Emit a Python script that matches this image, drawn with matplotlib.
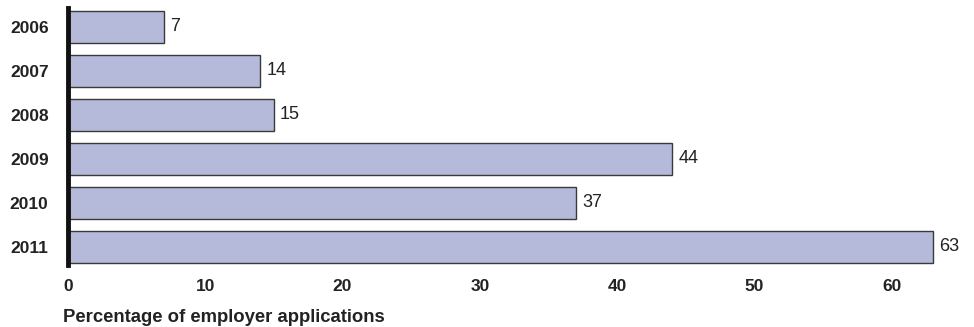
import matplotlib
matplotlib.use("Agg")
import matplotlib.pyplot as plt

years = ["2006", "2007", "2008", "2009", "2010", "2011"]
values = [7, 14, 15, 44, 37, 63]
xticks = [0, 10, 20, 30, 40, 50, 60]

plt.rcParams['font.family'] = ['Liberation Sans', 'DejaVu Sans']

fig = plt.figure(figsize=(9.74, 3.27), dpi=100)
ax = fig.add_axes([0.0698, 0.19, 0.902, 0.786])

pos = list(range(len(years)))
ax.barh(pos, values, height=0.73, color="#b5badb", edgecolor="#3a3a3a", linewidth=1.0, zorder=2)
for p, v in zip(pos, values):
    ax.text(v + 0.45, p, str(v), va="center", ha="left", fontsize=13, color="#222222")

ax.set_yticks(pos)
ax.set_yticklabels(years, fontsize=12.5, fontweight="bold", color="#222222")
ax.set_ylim(5.41, -0.43)
ax.set_xlim(0, 64)
ax.set_xticks(xticks)
ax.set_xticklabels([str(t) for t in xticks], fontsize=12.5, fontweight="bold", color="#222222")
ax.tick_params(axis="both", length=0)
ax.tick_params(axis="x", pad=10)
ax.tick_params(axis="y", pad=14)
for s in ["top", "right", "bottom"]:
    ax.spines[s].set_visible(False)
ax.spines["left"].set_linewidth(3.5)
ax.spines["left"].set_color("#111111")

fig.text(63 / 974, 1 - 318 / 327, "Percentage of employer applications", fontsize=13.3,
         fontweight="bold", color="#222222", ha="left", va="center")

fig.savefig("out.png", dpi=100)
